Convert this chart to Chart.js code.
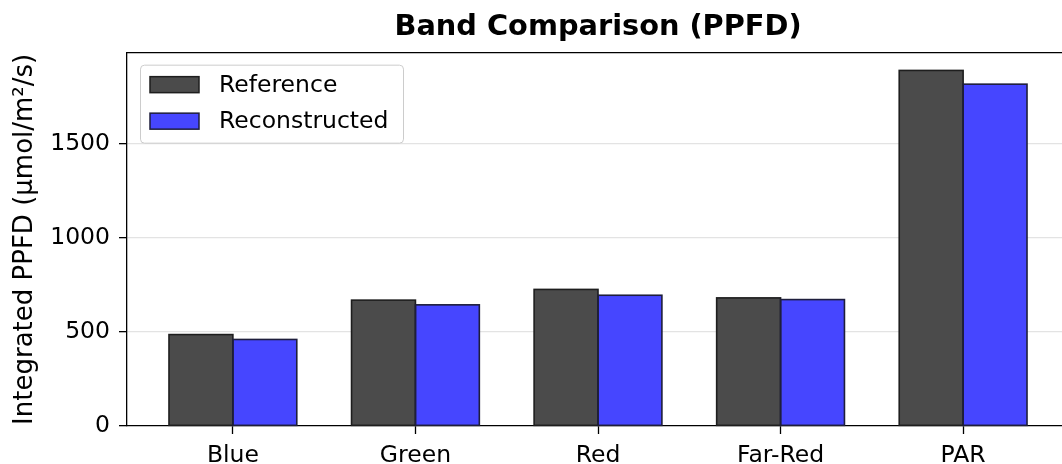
<!DOCTYPE html>
<html>
<head>
<meta charset="utf-8">
<title>Band Comparison (PPFD)</title>
<style>
  html, body { margin: 0; padding: 0; background: #ffffff; overflow: hidden; }
  #wrap { width: 1070px; height: 464px; }
</style>
<script src="https://cdn.jsdelivr.net/npm/chart.js@4.4.1/dist/chart.umd.min.js"></script>
</head>
<body>
<div id="wrap"><canvas id="chart" width="1070" height="464"></canvas></div>
<script>
// Integrated photon flux per spectral band
const bands = ['Blue', 'Green', 'Red', 'Far-Red', 'PAR'];
const referencePPFD = [486, 669, 726, 681, 1890];
const reconstructedPPFD = [460, 644, 695, 672, 1817];
const seriesNames = ['Reference', 'Reconstructed'];
const yTicks = [0, 500, 1000, 1500];

const FONT = 'DejaVu Sans';
const TICK_SIZE = 23.5;
const EDGE_WIDTH = 1.6;

Chart.defaults.font.family = FONT;
Chart.defaults.color = '#000000';

// y range padded 5% above the tallest bar, x range padded around the bar groups
const yMax = Math.max(...referencePPFD, ...reconstructedPPFD) * 1.05;
const xPad = 0.58;

// Bar outlines stroked on the bar edges (centred on the edge line)
const barEdges = {
  id: 'barEdges',
  afterDatasetsDraw(chart) {
    const { ctx } = chart;
    ctx.save();
    ctx.lineWidth = EDGE_WIDTH;
    chart.data.datasets.forEach((ds, di) => {
      const meta = chart.getDatasetMeta(di);
      ctx.strokeStyle = ds.borderColor;
      meta.data.forEach(bar => {
        const { x, y, base, width } = bar.getProps(['x', 'y', 'base', 'width'], true);
        ctx.strokeRect(x - width / 2, y, width, base - y);
      });
    });
    ctx.restore();
  }
};

// Top frame line of the plot area
const topSpine = {
  id: 'topSpine',
  afterDraw(chart) {
    const { ctx, chartArea } = chart;
    ctx.save();
    ctx.strokeStyle = '#000000';
    ctx.lineWidth = 1.3;
    ctx.beginPath();
    ctx.moveTo(chartArea.left, chartArea.top);
    ctx.lineTo(chartArea.right, chartArea.top);
    ctx.stroke();
    ctx.restore();
  }
};

// Framed legend in the upper-left corner of the plot area
const boxedLegend = {
  id: 'boxedLegend',
  afterDraw(chart) {
    const { ctx, chartArea } = chart;
    const x0 = chartArea.left + 13;
    const y0 = chartArea.top + 12;
    const w = 263, h = 78;
    ctx.save();
    ctx.beginPath();
    ctx.roundRect(x0 + 0.5, y0 + 0.5, w, h, 4);
    ctx.fillStyle = 'rgba(255,255,255,0.8)';
    ctx.fill();
    ctx.strokeStyle = '#cccccc';
    ctx.lineWidth = 1;
    ctx.stroke();

    ctx.font = TICK_SIZE + 'px "' + FONT + '"';
    ctx.textBaseline = 'middle';
    ctx.textAlign = 'left';
    chart.data.datasets.forEach((ds, i) => {
      const cy = y0 + 20 + i * 36.5;
      ctx.fillStyle = ds.backgroundColor;
      ctx.fillRect(x0 + 10, cy - 8, 49, 16);
      ctx.strokeStyle = ds.borderColor;
      ctx.lineWidth = 1.5;
      ctx.strokeRect(x0 + 10, cy - 8, 49, 16);
      ctx.fillStyle = '#000000';
      ctx.fillText(ds.label, x0 + 79, cy + 1);
    });
    ctx.restore();
  }
};

const toPoints = values => values.map((v, i) => ({ x: i, y: v }));

new Chart(document.getElementById('chart'), {
  type: 'bar',
  data: {
    datasets: [
      {
        label: seriesNames[0],
        data: toPoints(referencePPFD),
        backgroundColor: '#4b4b4b',
        borderColor: '#1e1e1e',
        borderWidth: 0,
        categoryPercentage: 0.7,
        barPercentage: 1.0
      },
      {
        label: seriesNames[1],
        data: toPoints(reconstructedPPFD),
        backgroundColor: '#4646ff',
        borderColor: '#1e1e3c',
        borderWidth: 0,
        categoryPercentage: 0.7,
        barPercentage: 1.0
      }
    ]
  },
  options: {
    responsive: false,
    animation: false,
    devicePixelRatio: 1,
    layout: { padding: { left: 0, right: 1, top: 0, bottom: 0 } },
    plugins: {
      legend: { display: false },
      tooltip: { enabled: false },
      title: {
        display: true,
        fullSize: false,
        text: 'Band Comparison (PPFD)',
        color: '#000000',
        font: { family: FONT, size: 28.8, weight: 'bold' },
        padding: { top: 10.3, bottom: 7.8 }
      }
    },
    scales: {
      x: {
        type: 'linear',
        min: -xPad,
        max: bands.length - 1 + xPad,
        offset: false,
        z: 1,
        afterBuildTicks: scale => { scale.ticks = bands.map((_, i) => ({ value: i })); },
        afterFit: scale => { scale.height = 38; },
        ticks: {
          autoSkip: false,
          maxRotation: 0,
          padding: 8,
          color: '#000000',
          font: { size: TICK_SIZE },
          callback: value => bands[Math.round(value)]
        },
        grid: {
          offset: false,
          drawOnChartArea: false,
          drawTicks: true,
          tickLength: 8,
          tickColor: '#000000',
          tickWidth: 1.3
        },
        border: { display: true, color: '#000000', width: 1.3 }
      },
      y: {
        min: 0,
        max: yMax,
        z: 1,
        afterBuildTicks: scale => { scale.ticks = yTicks.map(v => ({ value: v })); },
        afterFit: scale => { scale.width = 127; },
        ticks: {
          padding: 9,
          color: '#000000',
          font: { size: TICK_SIZE },
          callback: value => String(value)
        },
        grid: {
          color: ctx => (ctx.tick && ctx.tick.value === 0) ? 'rgba(0,0,0,0)' : 'rgba(176,176,176,0.35)',
          lineWidth: 1.3,
          drawTicks: true,
          tickLength: 8,
          tickColor: '#000000',
          tickWidth: 1.3
        },
        border: { display: true, color: '#000000', width: 1.3 },
        title: {
          display: true,
          text: 'Integrated PPFD (µmol/m²/s)',
          color: '#000000',
          font: { family: FONT, size: 26 },
          padding: { top: 10, bottom: 0 }
        }
      }
    }
  },
  plugins: [barEdges, topSpine, boxedLegend]
});
</script>
</body>
</html>
